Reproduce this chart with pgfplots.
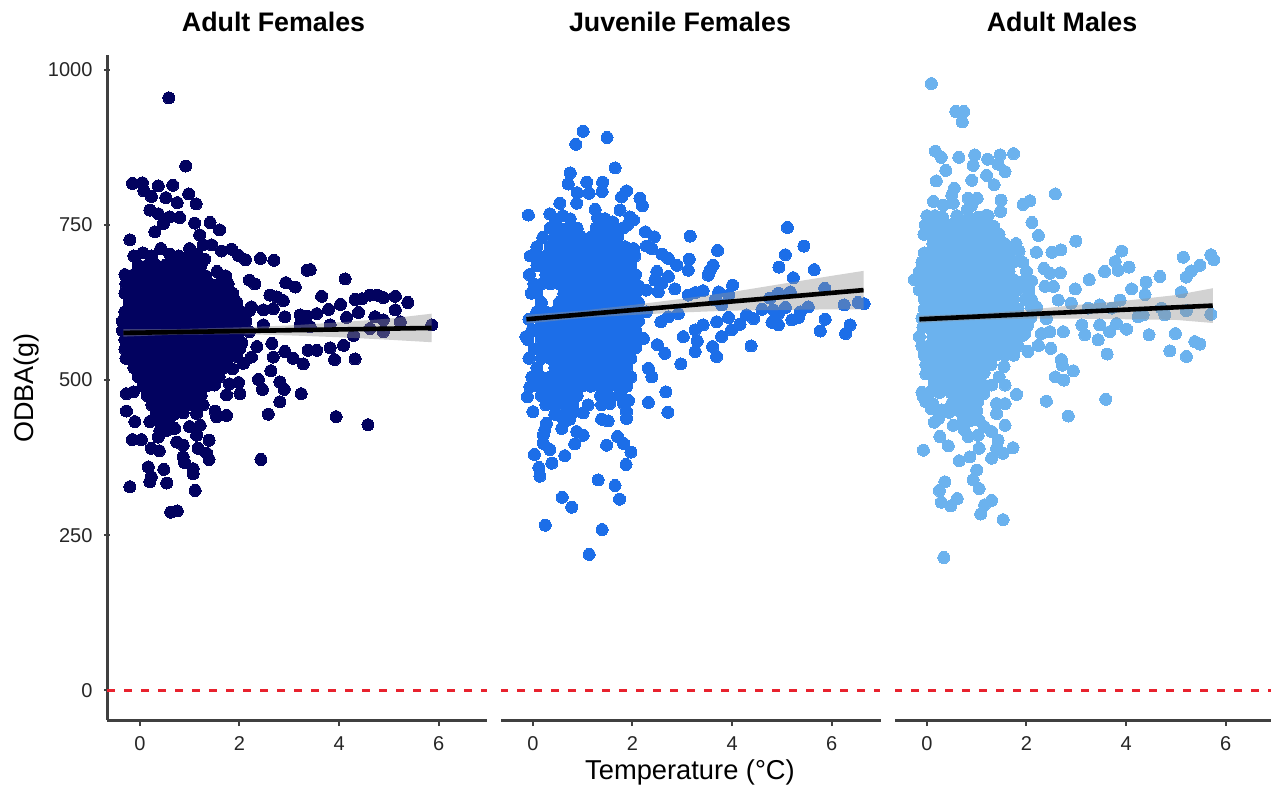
\documentclass[border=0pt]{standalone}
\usepackage{fontspec}
\setmainfont{Liberation Sans}
\usepackage{pgfplots}
\pgfplotsset{compat=1.18}
\definecolor{axc}{HTML}{404040}
\definecolor{cA}{HTML}{02025F}
\definecolor{cB}{HTML}{1C6EE8}
\definecolor{cC}{HTML}{6BB2EE}
\definecolor{redl}{HTML}{E8222E}
\pgfplotsset{panel/.style={
  scale only axis, width=380pt, height=665pt,
  ymin=-48, ymax=1024, xmin=-0.66, xmax=6.97,
  clip marker paths=true,
  axis x line=bottom,
  x axis line style={-},
  y axis line style={-},
  every outer x axis line/.append style={-, line width=3pt, color=axc},
  every outer y axis line/.append style={-, line width=3pt, color=axc},
  xtick={0,2,4,6}, ytick={0,250,500,750,1000},
  tick align=outside, major tick length=6pt,
  every tick/.append style={line width=2pt, color=axc},
  ticklabel style={font=\fontsize{20}{21}\selectfont, color=black!85},
  /pgf/number format/assume math mode=true,
  /pgf/number format/1000 sep={},
  xticklabel style={yshift=-7pt},
  yticklabel style={xshift=-8pt},
}}
\newcommand{\zero}{\addplot[redl, line width=2.7pt, dash pattern=on 8pt off 9pt, forget plot] coordinates {(-0.66,0) (6.97,0)};}
\begin{document}
\begin{tikzpicture}[x=1pt,y=1pt]
\useasboundingbox (0,0) rectangle (1271,785);
% ---------- Adult Females
\begin{axis}[panel, at={(107pt,65pt)}, anchor=south west, axis y line=left, y axis line style={-}, axis line style={-}]
\zero
\addplot[only marks, mark=*, mark size=6pt, mark options={draw=cA, fill=cA, line width=0pt}] coordinates {
(.58,955)(.92,845)(-.15,817)(.05,818)(.08,805)(.23,796)(.37,813)(.66,814)(.52,794)(.75,786)(.98,800)(1.13,784)(.2,774)(.37,768)(.6,763)(.8,762)(1.1,753)(1.41,754)(1.6,742)(.3,739)(.47,752)(1.2,734)(-.2,726)(1.44,718)(1.27,718)(1.0,712)(1.64,708)(1.84,711)(1.98,701)(2.12,694)(2.42,696)(2.69,693)(3.36,677)(3.42,678)(4.12,663)(2.2,661)(2.31,655)(2.93,657)(3.12,650)(3.65,635)(2.61,637)(2.75,634)(2.88,628)(4.03,622)(4.32,630)(4.46,631)(4.62,637)(4.76,637)(4.89,633)(5.13,635)(5.38,625)(5.13,613)(4.39,609)(4.15,601)(4.72,602)(5.23,594)(4.89,597)(5.86,589)(3.79,614)(3.55,607)(3.35,603)(3.22,605)(2.91,602)(2.68,615)(2.48,613)(2.24,618)(2.48,589)(3.22,589)(3.42,586)(3.82,589)(4.29,572)(4.89,578)(4.62,583)(4.09,556)(3.82,552)(3.91,533)(4.32,534)(3.55,548)(3.38,548)(3.28,526)(3.08,535)(2.91,546)(2.65,559)(2.68,537)(2.35,554)(2.24,537)(2.08,527)(2.63,515)(2.38,501)(2.46,485)(2.81,497)(2.9,485)(3.24,478)(2.81,465)(2.58,445)(3.94,441)(4.58,428)(2.43,372)
(-.27,450)(-.1,433)(-.15,404)(.03,404)(-.27,478)(-.13,481)(.23,390)(.39,386)(.74,400)(.87,395)(1.17,390)(1.34,382)(1.39,372)(1.39,403)(.87,376)(.9,367)(1.07,357)(1.07,349)(.17,360)(.48,356)(.23,344)(.2,336)(.54,334)(-.2,328)(1.11,322)(.62,287)(.75,289)
(1.74,443)(1.54,441)(1.51,450)(1.27,460)(1.14,446)(1.21,427)(1.0,425)(1.14,411)(.7,422)(.54,419)(.37,408)(.2,433)(2.01,478)(1.74,476)(1.98,496)(1.8,494)
(-.12,700)(.06,705)(.24,700)(.42,712)(.6,703)(.78,700)(.96,698)(1.14,703)(1.3,695)
(-.03,685)(.15,685)(.33,685)(.51,685)(.69,685)(.87,685)(1.05,685)(1.23,685)
(-.3,670)(-.12,670)(.06,670)(.24,670)(.42,670)(.6,670)(.78,670)(.96,670)(1.14,670)(1.32,668)(1.55,675)(1.72,668)
(-.28,655)(-.03,655)(.15,655)(.33,655)(.51,655)(.69,655)(.87,655)(1.05,655)(1.23,655)(1.41,655)(1.59,655)(1.77,655)
(-.3,640)(-.12,640)(.06,640)(.24,640)(.42,640)(.6,640)(.78,640)(.96,640)(1.14,640)(1.32,640)(1.5,640)(1.68,640)(1.86,640)
(-.21,625)(-.03,625)(.15,625)(.33,625)(.51,625)(.69,625)(.87,625)(1.05,625)(1.23,625)(1.41,625)(1.59,625)(1.77,625)(1.95,625)
(-.3,610)(-.12,610)(.06,610)(.24,610)(.42,610)(.6,610)(.78,610)(.96,610)(1.14,610)(1.32,610)(1.5,610)(1.68,610)(1.86,610)(2.04,610)(2.2,612)
(-.35,595)(-.21,595)(-.03,595)(.15,595)(.33,595)(.51,595)(.69,595)(.87,595)(1.05,595)(1.23,595)(1.41,595)(1.59,595)(1.77,595)(1.95,595)(2.13,595)
(-.35,580)(-.12,580)(.06,580)(.24,580)(.42,580)(.6,580)(.78,580)(.96,580)(1.14,580)(1.32,580)(1.5,580)(1.68,580)(1.86,580)(2.04,580)(2.2,578)
(-.3,565)(-.21,565)(-.03,565)(.15,565)(.33,565)(.51,565)(.69,565)(.87,565)(1.05,565)(1.23,565)(1.41,565)(1.59,565)(1.77,565)(1.95,565)(2.05,560)
(-.3,550)(-.12,550)(.06,550)(.24,550)(.42,550)(.6,550)(.78,550)(.96,550)(1.14,550)(1.32,550)(1.5,550)(1.68,550)(1.86,550)(2.0,550)
(-.28,535)(-.21,535)(-.03,535)(.15,535)(.33,535)(.51,535)(.69,535)(.87,535)(1.05,535)(1.23,535)(1.41,535)(1.59,535)(1.77,535)(1.95,538)
(-.12,520)(.06,520)(.24,520)(.42,520)(.6,520)(.78,520)(.96,520)(1.14,520)(1.32,520)(1.5,520)(1.68,520)(1.86,518)
(-.03,505)(.15,505)(.33,505)(.51,505)(.69,505)(.87,505)(1.05,505)(1.23,505)(1.41,505)(1.59,505)
(.06,490)(.24,490)(.42,490)(.6,490)(.78,490)(.96,490)(1.14,490)(1.32,490)(1.5,492)
(.15,475)(.33,475)(.51,475)(.69,475)(.87,475)(1.05,475)(1.23,475)
(.24,460)(.42,460)(.6,460)(.78,460)(.96,460)(1.14,462)
(.33,445)(.51,445)(.69,445)(.87,447)
(.42,430)(.6,428)(.4,418)
};
\addplot[draw=none, fill=gray!85, fill opacity=.42] coordinates {(-.33,570)(.7,573)(2,574)(3,572)(4,569)(5,565)(5.86,561)(5.86,607)(5,599)(4,593)(3,588)(2,585)(.7,582)(-.33,582)} -- cycle;
\addplot[black, line width=4.6pt] coordinates {(-.33,576) (5.86,584)};
\end{axis}
% ---------- Juvenile Females
\begin{axis}[panel, at={(501pt,65pt)}, anchor=south west, axis y line=none, xmin=-0.64, xmax=6.99]
\zero
\addplot[only marks, mark=*, mark size=6pt, mark options={draw=cB, fill=cB, line width=0pt}] coordinates {
(1.01,901)(1.49,891)(.86,880)(1.65,842)(.75,834)(.71,816)(1.08,819)(1.4,819)(1.39,804)(1.13,801)(.89,802)(1.88,805)(1.78,795)(2.15,793)(2.2,781)(.88,785)(-.09,766)(.34,768)(.54,785)(1.75,774)(1.95,763)(2.02,758)(1.25,775)
(2.26,739)(2.44,731)(3.16,732)(5.11,746)(5.44,716)(5.07,702)(3.71,709)(4.94,682)(5.65,678)(5.23,665)(3.14,695)(2.89,685)(3.12,677)(2.72,696)(2.59,703)(2.28,716)(2.39,712)(3.62,685)(3.56,677)(3.52,669)(2.49,675)(2.72,667)(2.45,661)(2.59,656)(2.85,647)(2.28,645)(2.52,642)(3.12,637)(3.26,641)(3.42,644)(3.73,642)(4.01,653)(3.93,637)(3.66,629)(3.79,621)(5.86,648)(5.17,642)(4.93,640)(4.76,632)(6.25,621)(6.53,625)(6.65,623)(5.53,618)(5.37,610)(5.07,617)(4.6,614)(4.83,613)(4.93,607)(5.87,598)(5.2,597)(5.33,601)(4.8,593)(4.93,589)(5.77,579)(6.37,589)(6.28,575)(4.29,605)(4.43,599)(4.16,590)(3.93,601)(3.69,594)(3.99,581)(3.42,589)(3.26,581)(3.79,570)(3.02,570)(3.3,563)(4.38,555)(3.61,554)(3.69,538)(3.26,546)(2.97,526)(2.65,543)(2.5,557)(2.22,567)(2.57,594)(2.72,602)(2.92,607)(2.28,610)
(2.32,519)(2.39,505)(2.67,481)(2.32,464)(2.71,448)(1.88,449)(1.88,438)(1.51,434)(1.38,437)(1.01,447)(0,449)(-.11,473)(-.06,489)(.64,378)(.03,380)(.38,366)(.12,359)(.14,345)(1.87,364)(1.97,384)(1.7,409)(1.82,398)(1.48,395)(.84,397)(1.01,411)(.88,417)(.58,422)(.64,433)(.48,444)(.27,430)(.21,411)(.21,398)(.34,388)(1.31,339)(1.65,330)(1.74,308)(.59,311)(.78,295)(.25,266)(1.39,259)(1.13,219)
(.24,420)(.61,437)(.74,437)(1.11,460)(1.55,473)(1.92,467)(1.78,484)(.41,460)
(.45,760)(.6,765)(.75,760)(1.3,762)(1.45,760)(1.6,755)(1.9,750)
(.35,745)(.53,745)(.71,745)(.89,745)(1.27,745)(1.45,745)(1.63,745)(1.81,745)
(.2,730)(.44,730)(.62,730)(.8,730)(.98,730)(1.16,730)(1.34,730)(1.52,730)(1.7,730)
(.08,715)(.35,715)(.53,715)(.71,715)(.89,715)(1.07,715)(1.25,715)(1.43,715)(1.61,715)(1.85,715)(2.02,712)
(-.05,700)(.1,700)(.26,700)(.44,700)(.62,700)(.8,700)(.98,700)(1.16,700)(1.34,700)(1.52,700)(1.7,700)(1.88,700)(2.05,700)
(.08,685)(.17,685)(.35,685)(.53,685)(.71,685)(.89,685)(1.07,685)(1.25,685)(1.43,685)(1.61,685)(1.79,685)(1.97,685)
(-.07,670)(.26,670)(.44,670)(.62,670)(.8,670)(.98,670)(1.16,670)(1.34,670)(1.52,670)(1.7,670)(1.88,670)(2.06,670)
(.02,655)(.17,655)(.35,655)(.53,655)(.71,655)(.89,655)(1.07,655)(1.25,655)(1.43,655)(1.61,655)(1.79,655)(1.97,655)(2.12,652)
(-.03,640)(.08,640)(.62,640)(.8,640)(.98,640)(1.16,640)(1.34,640)(1.52,640)(1.7,640)(1.88,640)(2.06,640)
(.17,625)(.53,625)(.71,625)(.89,625)(1.07,625)(1.25,625)(1.43,625)(1.61,625)(1.79,625)(1.97,625)(2.12,625)
(.08,610)(.26,610)(.44,610)(.62,610)(.8,610)(.98,610)(1.16,610)(1.34,610)(1.52,610)(1.7,610)(1.88,610)(2.06,610)
(-.08,598)(.17,595)(.35,595)(.53,595)(.71,595)(.89,595)(1.07,595)(1.25,595)(1.43,595)(1.61,595)(1.79,595)(1.97,595)(2.12,595)
(-.14,570)(-.02,580)(.08,580)(.26,580)(.44,580)(.62,580)(.8,580)(.98,580)(1.16,580)(1.34,580)(1.52,580)(1.7,580)(1.88,580)(2.06,580)
(-.1,565)(.17,565)(.35,565)(.53,565)(.71,565)(.89,565)(1.07,565)(1.25,565)(1.43,565)(1.61,565)(1.79,565)(1.97,565)(2.14,568)
(.03,550)(.08,550)(.26,550)(.44,550)(.62,550)(.8,550)(.98,550)(1.16,550)(1.34,550)(1.52,550)(1.7,550)(1.88,550)(2.06,552)
(-.08,535)(.17,535)(.35,535)(.53,535)(.71,535)(.89,535)(1.07,535)(1.25,535)(1.43,535)(1.61,535)(1.79,535)(1.97,535)
(.08,520)(.44,520)(.62,520)(.8,520)(.98,520)(1.16,520)(1.34,520)(1.52,520)(1.7,520)(1.88,520)
(-.02,505)(.17,505)(.35,505)(.53,505)(.71,505)(.89,505)(1.07,505)(1.25,505)(1.43,505)(1.61,505)(1.79,505)(1.97,505)
(.1,490)(.26,490)(.44,490)(.62,490)(.8,490)(.98,490)(1.16,490)(1.34,490)(1.52,490)(1.7,490)(1.88,490)
(.17,475)(.35,475)(.53,475)(.71,475)(.89,475)(1.36,475)(1.52,475)(1.75,475)
(.26,460)(.44,460)(.62,460)(.8,460)(1.38,460)(1.54,462)(1.82,462)
(.44,445)(.62,442)(.8,448)
};
\addplot[draw=none, fill=gray!85, fill opacity=.42] coordinates {(-.13,591)(1,600)(2,605)(3,609)(4,612)(5,613)(6,614)(6.64,614)(6.64,676)(6,668)(5,655)(4,642)(3,631)(2,621)(1,612)(-.13,605)} -- cycle;
\addplot[black, line width=4.6pt] coordinates {(-.13,598) (6.64,645)};
\end{axis}
% ---------- Adult Males
\begin{axis}[panel, at={(895pt,65pt)}, anchor=south west, axis y line=none, width=376pt, xmin=-0.64, xmax=6.91]
\zero
\addplot[only marks, mark=*, mark size=6pt, mark options={draw=cC, fill=cC, line width=0pt}] coordinates {
(.09,978)(.58,933)(.74,933)(.71,916)(.17,869)(.29,859)(.64,859)(.96,863)(.93,846)(1.22,856)(1.47,863)(1.74,865)(1.43,848)(1.57,836)(.38,838)(.19,821)(.9,822)(1.2,830)(1.35,815)(.55,809)(.5,798)(2.58,800)(.13,788)(.33,782)(.53,785)(.83,793)(1.01,793)(.9,782)(1.49,790)(1.93,783)(2.07,789)(1.48,772)(.81,774)(1.23,765)(2.11,754)(2.24,733)(2.99,724)(1.79,720)(2.2,706)(2.51,706)(2.69,710)(3.91,708)(3.78,691)(4.06,682)(3.57,675)(3.84,677)(2.35,680)(2.47,672)(2.68,673)(3.26,662)(5.15,698)(5.7,702)(5.76,694)(5.48,685)(5.31,676)(5.21,666)(4.68,667)(4.4,658)(4.11,647)(4.38,638)(5.11,642)(2.98,647)(2.54,651)(2.37,651)(2.64,629)(2.9,624)(3.24,616)(3.47,621)(3.71,616)(3.88,629)(2.2,618)(2.4,599)(5.21,612)(5.7,606)(4.71,616)(4.78,605)(4.24,602)(4.34,605)(3.81,591)(3.67,578)(3.47,589)(3.11,589)(3.17,573)(3.44,565)(4.01,582)(4.46,573)(4.99,575)(5.38,562)(5.48,558)(4.88,547)(5.21,538)(3.62,542)(2.74,578)(2.47,578)(2.3,575)(1.97,575)(2.49,551)(2.24,556)(2.03,546)(2.7,533)(2.72,524)(2.94,515)(2.58,505)(2.75,500)(2.4,466)(3.59,469)(2.84,442)(1.8,477)(1.57,492)(1.3,492)(1.57,462)(1.4,462)(1.4,446)(1.57,427)(1.3,417)(1.43,403)(1.73,391)(1.53,382)(1.3,374)(1.4,390)(1.05,390)(.26,409)(.43,394)(-.07,387)(.65,370)(.86,376)(1,355)(.93,339)(1.05,325)(.36,336)(.25,322)(.61,309)(.29,303)(.48,297)(1.16,299)(1.3,306)(1.08,284)(1.53,275)(.34,214)(.23,438)(.5,462)(.53,427)(.83,409)(1.03,411)(-.07,473)(.09,454)
(0,765)(.16,765)(.32,762)(.6,765)(.85,760)(1.02,762)(1.18,765)
(-.03,750)(.12,750)(.3,750)(.48,750)(.66,750)(.84,750)(1.02,750)(1.2,750)(1.34,748)
(-.06,735)(.03,735)(.21,735)(.39,735)(.57,735)(.75,735)(.93,735)(1.11,735)(1.29,735)(1.45,735)
(.12,720)(.3,720)(.48,720)(.66,720)(.84,720)(1.02,720)(1.2,720)(1.38,720)(1.56,720)
(-.05,705)(.03,705)(.21,705)(.39,705)(.57,705)(.75,705)(.93,705)(1.11,705)(1.29,705)(1.47,705)(1.65,705)(1.85,708)
(-.1,690)(.12,690)(.3,690)(.48,690)(.66,690)(.84,690)(1.02,690)(1.2,690)(1.38,690)(1.56,690)(1.74,690)(1.92,690)
(-.15,675)(.03,675)(.21,675)(.39,675)(.57,675)(.75,675)(.93,675)(1.11,675)(1.29,675)(1.47,675)(1.65,675)(2.0,675)
(-.25,662)(-.08,660)(.12,660)(.3,660)(.48,660)(.66,660)(.84,660)(1.02,660)(1.2,660)(1.38,660)(1.56,660)(1.74,662)(1.95,660)(2.1,660)
(-.15,645)(.03,645)(.21,645)(.39,645)(.57,645)(.75,645)(.93,645)(1.11,645)(1.29,645)(1.47,645)(1.65,645)(1.83,645)(2.05,645)
(-.05,630)(.12,630)(.3,630)(.48,630)(.66,630)(.84,630)(1.02,630)(1.2,630)(1.38,630)(1.56,630)(1.74,630)(1.98,630)(2.1,630)
(-.05,615)(.03,615)(.21,615)(.39,615)(.57,615)(.75,615)(.93,615)(1.11,615)(1.29,615)(1.47,615)(1.65,615)(1.83,615)(2.1,618)
(-.1,600)(.12,600)(.3,600)(.48,600)(.66,600)(.84,600)(1.02,600)(1.2,600)(1.38,600)(1.56,600)(1.74,600)(1.95,600)(2.08,600)
(-.08,585)(.03,585)(.21,585)(.39,585)(.57,585)(.75,585)(.93,585)(1.11,585)(1.29,585)(1.47,585)(1.65,585)(1.83,585)(2.02,588)
(-.15,570)(.12,570)(.3,570)(.48,570)(.66,570)(.84,570)(1.02,570)(1.2,570)(1.38,570)(1.56,570)(1.74,570)(1.92,572)
(-.1,555)(.03,555)(.21,555)(.39,555)(.57,555)(.75,555)(.93,555)(1.11,555)(1.29,555)(1.47,555)(1.65,555)(1.83,555)
(-.05,540)(.12,540)(.3,540)(.48,540)(.66,540)(.84,540)(1.02,540)(1.2,540)(1.38,540)(1.56,540)(1.74,540)
(-.02,525)(.21,525)(.39,525)(.57,525)(.75,525)(.93,525)(1.11,525)(1.29,525)(1.55,522)
(-.02,510)(.12,510)(.3,510)(.48,510)(.66,510)(.84,510)(1.02,510)(1.15,512)(1.45,505)
(.15,495)(.39,495)(.57,495)(.75,495)(.93,495)(1.1,495)
(-.1,480)(.05,480)(.25,480)(.48,480)(.66,480)(.84,480)(1.02,480)(1.14,478)
(-.02,465)(.12,462)(.66,465)(.84,465)(1.02,465)
(.3,452)(.45,448)(.66,450)(.84,450)(1.0,450)
(.15,432)(.72,435)(.88,435)(1.05,435)(1.15,425)(.75,420)
};
\addplot[draw=none, fill=gray!85, fill opacity=.42] coordinates {(-.15,592)(1,597)(2,599)(3,599)(4,598)(5,597)(5.74,592)(5.74,648)(5,637)(4,628)(3,621)(2,613)(1,607)(-.15,604)} -- cycle;
\addplot[black, line width=4.6pt] coordinates {(-.15,598) (5.74,620)};
\end{axis}
% ---------- texts
\node[font=\fontsize{26.8}{28}\selectfont\bfseries, text=black] at (273.5,763) {Adult Females};
\node[font=\fontsize{26.8}{28}\selectfont\bfseries, text=black] at (680,763) {Juvenile Females};
\node[font=\fontsize{26.8}{28}\selectfont\bfseries, text=black] at (1062,763) {Adult Males};
\node[font=\fontsize{27}{29}\selectfont, rotate=90, text=black] at (27,397) {ODBA(g)};
\node[font=\fontsize{27.3}{29}\selectfont, text=black] at (690,12.5) {Temperature (°C)};
\end{tikzpicture}
\end{document}
